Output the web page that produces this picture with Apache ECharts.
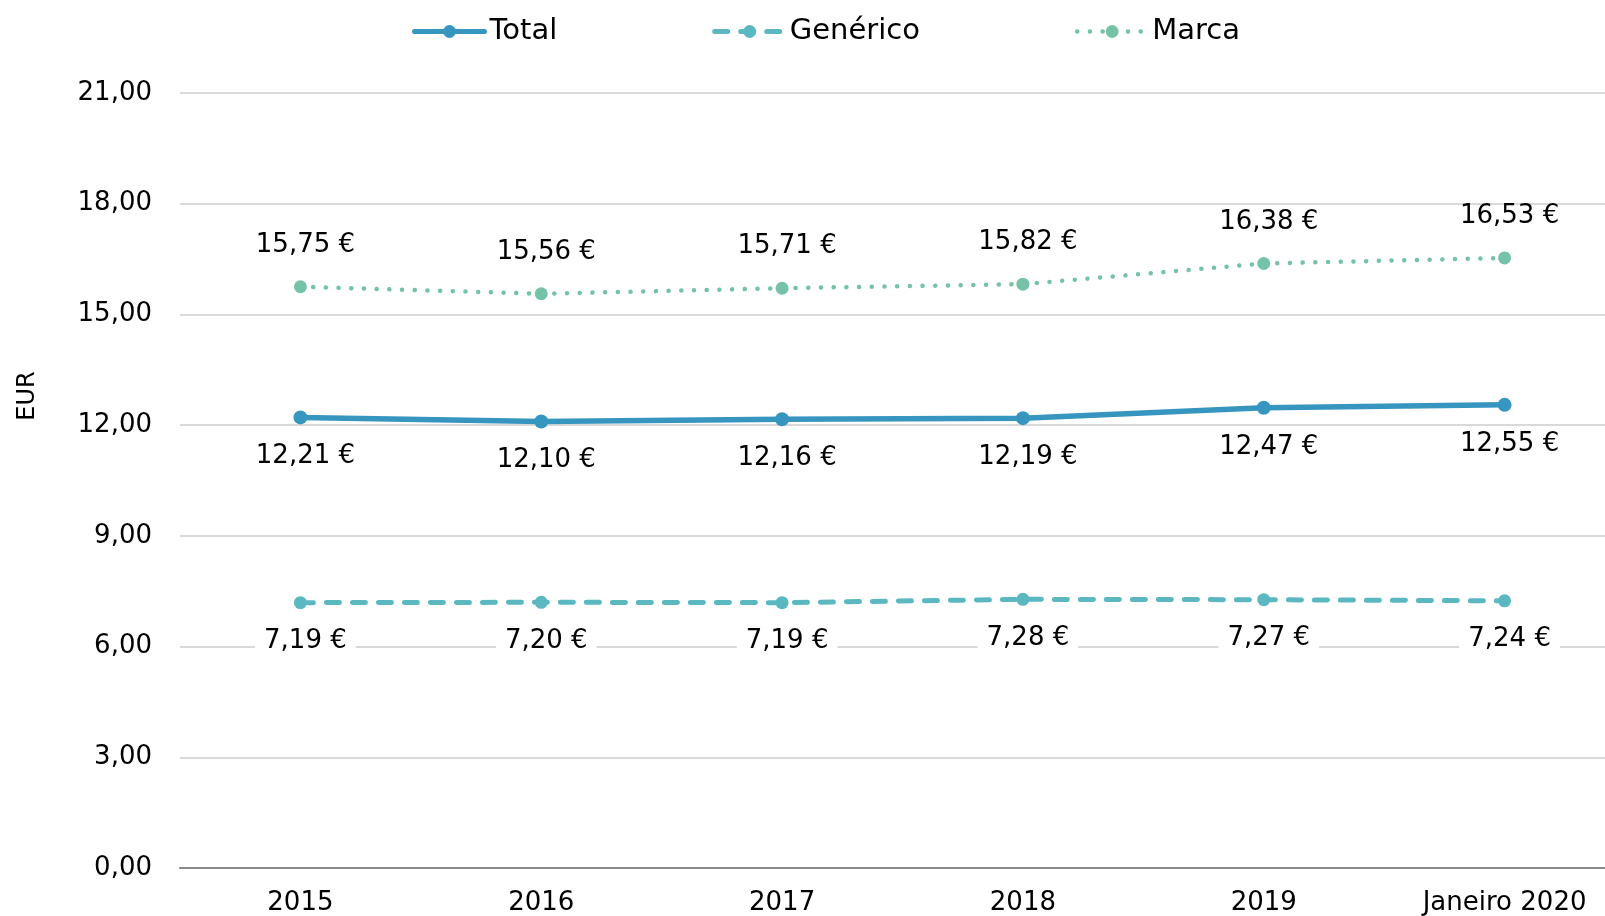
<!DOCTYPE html>
<html>
<head>
<meta charset="utf-8">
<script src="https://cdn.jsdelivr.net/npm/echarts@6/dist/echarts.min.js"></script>
<style>
html,body{margin:0;padding:0;background:#fff;}
#chart{width:1605px;height:916px;}
</style>
</head>
<body>
<div id="chart"></div>
<script>
const categories = ['2015', '2016', '2017', '2018', '2019', 'Janeiro 2020'];
const totalValues = [12.21, 12.10, 12.16, 12.19, 12.47, 12.55];
const genericoValues = [7.19, 7.20, 7.19, 7.28, 7.27, 7.24];
const marcaValues = [15.75, 15.56, 15.71, 15.82, 16.38, 16.53];
const seriesNames = ['Total', 'Genérico', 'Marca'];
const yAxisTitle = 'EUR';

const FONT = 'DejaVu Sans';
const fmtEur = p => p.value.toFixed(2).replace('.', ',') + ' €';

const chart = echarts.init(document.getElementById('chart'));
chart.setOption({
  animation: false,
  backgroundColor: '#fff',
  textStyle: { fontFamily: FONT },
  legend: {
    top: 12,
    left: 407,
    itemWidth: 70,
    itemHeight: 16,
    itemGap: 155,
    textStyle: { fontSize: 29, color: '#000', fontFamily: FONT },
    data: [
      { name: seriesNames[0], lineStyle: { width: 5 } },
      { name: seriesNames[1], lineStyle: { width: 5 } },
      { name: seriesNames[2], lineStyle: { width: 4.5 } }
    ]
  },
  grid: { left: 180, top: 93, width: 1445, height: 775, containLabel: false, outerBoundsMode: 'none' },
  xAxis: {
    type: 'category',
    data: categories,
    boundaryGap: true,
    axisLine: { lineStyle: { color: '#898989', width: 2 } },
    axisTick: { show: false },
    axisLabel: { fontSize: 26, color: '#000', margin: 22, fontFamily: FONT, hideOverlap: false }
  },
  yAxis: {
    type: 'value',
    min: 0, max: 21, interval: 3,
    axisLine: { show: false },
    axisTick: { show: false },
    splitLine: { lineStyle: { color: '#d9d9d9', width: 2 } },
    axisLabel: {
      fontSize: 26, color: '#000', margin: 28, fontFamily: FONT,
      formatter: v => v.toFixed(2).replace('.', ',')
    }
  },
  graphic: [{
    type: 'text',
    x: 28, y: 396,
    rotation: Math.PI / 2,
    style: { text: yAxisTitle, fontSize: 24, fill: '#000', fontFamily: FONT, align: 'center', verticalAlign: 'middle' }
  }],
  series: [
    {
      name: seriesNames[0], type: 'line', data: totalValues,
      symbol: 'circle', symbolSize: 14,
      itemStyle: { color: '#3796c0' },
      lineStyle: { color: '#3796c0', width: 5.5, cap: 'round' },
      label: { show: true, position: 'bottom', distance: 19, offset: [5, 0], fontSize: 26, color: '#000', fontFamily: FONT, formatter: fmtEur },
      z: 3
    },
    {
      name: seriesNames[1], type: 'line', data: genericoValues,
      symbol: 'circle', symbolSize: 13,
      itemStyle: { color: '#5bb8c1' },
      lineStyle: { color: '#5bb8c1', width: 5, type: [13, 13], cap: 'round' },
      label: { show: true, position: 'bottom', distance: 17, offset: [5, 0], fontSize: 26, color: '#000', fontFamily: FONT, backgroundColor: '#fff', padding: [2, 9], formatter: fmtEur },
      z: 2
    },
    {
      name: seriesNames[2], type: 'line', data: marcaValues,
      symbol: 'circle', symbolSize: 13,
      itemStyle: { color: '#76c2a6' },
      lineStyle: { color: '#76c2a6', width: 4.5, type: [0.1, 12.6], cap: 'round' },
      label: { show: true, position: 'top', distance: 22, offset: [5, 0], fontSize: 26, color: '#000', fontFamily: FONT, formatter: fmtEur },
      z: 2
    }
  ]
});
</script>
</body>
</html>
